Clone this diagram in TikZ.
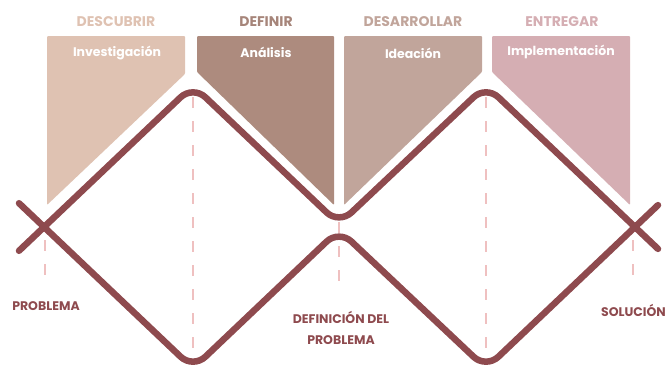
\documentclass[tikz,border=0pt]{standalone}
\usepackage{fontspec}
\setmainfont{Poppins}
\definecolor{lineC}{HTML}{8E4A4E}
\definecolor{dashC}{HTML}{EFC0C0}
\definecolor{pA}{HTML}{DFC2B2}
\definecolor{pB}{HTML}{AD8B7E}
\definecolor{pC}{HTML}{C1A59B}
\definecolor{pD}{HTML}{D5AEB3}
\definecolor{tB}{HTML}{A6857A}
\tikzset{
  panel/.style={draw=none, rounded corners=1pt},
  title/.style={font=\fontsize{14}{16}\selectfont\bfseries, anchor=center, inner sep=0pt},
  sub/.style={font=\fontsize{12.5}{14}\selectfont\bfseries, text=white, anchor=center, inner sep=0pt},
  lab/.style={font=\fontsize{12.5}{21}\selectfont\bfseries, text=lineC, anchor=center, inner sep=0pt, align=center},
  guide/.style={draw=dashC, line width=1.8pt, dash pattern=on 11pt off 13pt},
  wave/.style={draw=lineC, line width=6.5pt, line cap=round, line join=round, rounded corners=17pt}
}
\begin{document}
\begin{tikzpicture}[x=1pt,y=-1pt]
\useasboundingbox (0,0) rectangle (667,367);
% panels
\fill[pA, panel] (47,36) -- (185,36) -- (185,74) -- (47,205) -- cycle;
\fill[pB, panel] (197,36) -- (334,36) -- (334,205) -- (197,72) -- cycle;
\fill[pC, panel] (344,36) -- (482,36) -- (482,72) -- (344,205) -- cycle;
\fill[pD, panel] (492,36) -- (630,36) -- (630,205) -- (492,72) -- cycle;
% titles
\node[title, text=pA] (t1) at (116,22) {DESCUBRIR};
\node[title, text=tB] (t2) at (266,22) {DEFINIR};
\node[title, text=pC] (t3) at (413,22) {DESARROLLAR};
\node[title, text=pD] (t4) at (562,22) {ENTREGAR};
\node[sub] (s1) at (117,53) {Investigación};
\node[sub] (s2) at (266,52) {Análisis};
\node[sub] (s3) at (413,53) {Ideación};
\node[sub] (s4) at (561,52) {Implementación};
% guides
\draw[guide] (45,240) -- (45,282);
\draw[guide] (193,97) -- (193,360);
\draw[guide] (339,222) -- (339,292);
\draw[guide] (486,97) -- (486,360);
\draw[guide] (633,240) -- (633,282);
% waves
\coordinate (uA) at (19,250.8);
\coordinate (uP1) at (193,85.5);
\coordinate (uM) at (339,224.2);
\coordinate (uP2) at (486,85.5);
\coordinate (uB) at (658,248.9);
\coordinate (lA) at (19,203.2);
\coordinate (lT1) at (193,368.5);
\coordinate (lM) at (339,229.8);
\coordinate (lT2) at (486,368.5);
\coordinate (lB) at (658,205.1);
\draw[wave] (uA) -- (uP1) -- (uM) -- (uP2) -- (uB);
\draw[wave] (lA) -- (lT1) -- (lM) -- (lT2) -- (lB);
% labels
\node[lab] (b1) at (46,306) {PROBLEMA};
\node[lab] (b2) at (341,328) {DEFINICIÓN DEL\\PROBLEMA};
\node[lab, anchor=east] (b3) at (666,310) {SOLUCIÓN};
\end{tikzpicture}
\end{document}
